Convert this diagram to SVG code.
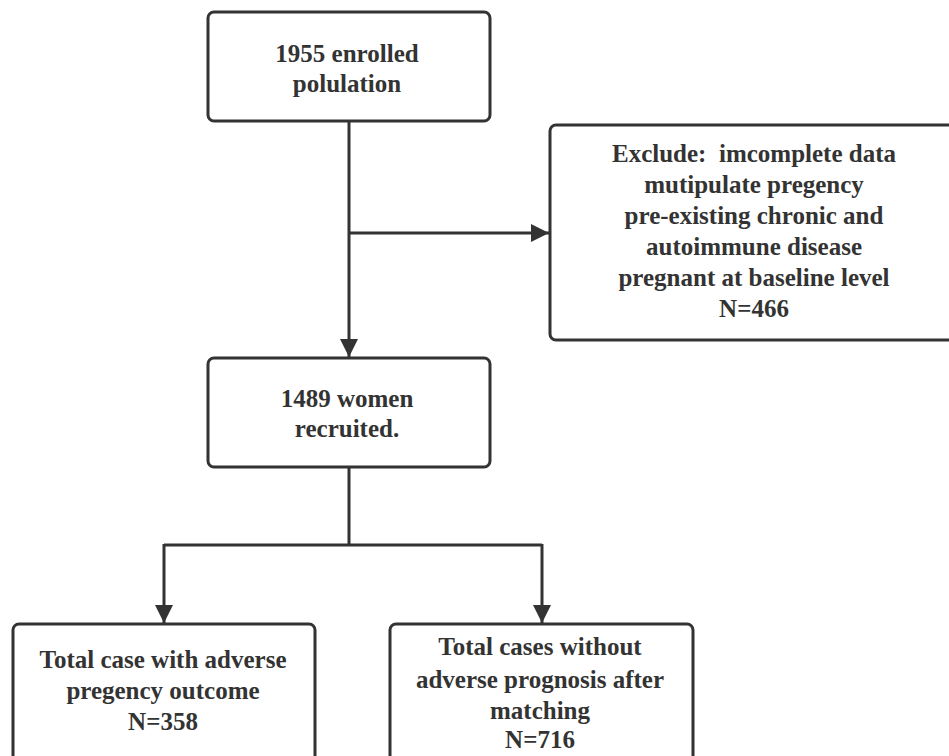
<svg xmlns="http://www.w3.org/2000/svg" width="949" height="756" viewBox="0 0 949 756">
<style>
.box{fill:#fff;stroke:#333;stroke-width:3}
.c{fill:none;stroke:#333;stroke-width:3}
</style>
<defs>
<marker id="ah" markerWidth="18" markerHeight="20" refX="18" refY="9" orient="auto" markerUnits="userSpaceOnUse" viewBox="0 0 18 18">
<path d="M0,0 L18,9 L0,18 Z" fill="#333"/>
</marker>
</defs>
<rect width="949" height="756" fill="#fff"/>
<g id="connectors">
<line class="c" x1="349" y1="121" x2="349" y2="357" marker-end="url(#ah)"/>
<line class="c" x1="349" y1="233" x2="549" y2="233" marker-end="url(#ah)"/>
<polyline class="c" points="349,467 349,545"/>
<polyline class="c" points="164,545 542,545"/>
<line class="c" x1="164" y1="544" x2="164" y2="623" marker-end="url(#ah)"/>
<line class="c" x1="542" y1="544" x2="542" y2="623" marker-end="url(#ah)"/>
</g>
<g id="n1">
<rect class="box" x="208" y="12" width="282" height="109" rx="6"/>
<text x="347" y="62" font-family="'Liberation Serif', serif" font-weight="bold" font-size="25" fill="#333" text-anchor="middle">1955 enrolled</text>
<text x="347" y="92" font-family="'Liberation Serif', serif" font-weight="bold" font-size="25" fill="#333" text-anchor="middle">polulation</text>
</g>
<g id="n2">
<rect class="box" x="550" y="125" width="410" height="215" rx="6"/>
<text x="754" y="162" xml:space="preserve" font-family="'Liberation Serif', serif" font-weight="bold" font-size="25" fill="#333" text-anchor="middle">Exclude:  imcomplete data</text>
<text x="754" y="193" font-family="'Liberation Serif', serif" font-weight="bold" font-size="25" fill="#333" text-anchor="middle">mutipulate pregency</text>
<text x="754" y="224" font-family="'Liberation Serif', serif" font-weight="bold" font-size="25" fill="#333" text-anchor="middle">pre-existing chronic and</text>
<text x="754" y="255" font-family="'Liberation Serif', serif" font-weight="bold" font-size="25" fill="#333" text-anchor="middle">autoimmune disease</text>
<text x="754" y="286" font-family="'Liberation Serif', serif" font-weight="bold" font-size="25" fill="#333" text-anchor="middle">pregnant at baseline level</text>
<text x="754" y="317" font-family="'Liberation Serif', serif" font-weight="bold" font-size="25" fill="#333" text-anchor="middle">N=466</text>
</g>
<g id="n3">
<rect class="box" x="208" y="358" width="282" height="109" rx="6"/>
<text x="347" y="407" font-family="'Liberation Serif', serif" font-weight="bold" font-size="25" fill="#333" text-anchor="middle">1489 women</text>
<text x="347" y="437" font-family="'Liberation Serif', serif" font-weight="bold" font-size="25" fill="#333" text-anchor="middle">recruited.</text>
</g>
<g id="n4">
<rect class="box" x="13" y="624" width="302" height="145" rx="6"/>
<text x="163" y="668" font-family="'Liberation Serif', serif" font-weight="bold" font-size="25" fill="#333" text-anchor="middle">Total case with adverse</text>
<text x="163" y="699" font-family="'Liberation Serif', serif" font-weight="bold" font-size="25" fill="#333" text-anchor="middle">pregency outcome</text>
<text x="163" y="730" font-family="'Liberation Serif', serif" font-weight="bold" font-size="25" fill="#333" text-anchor="middle">N=358</text>
</g>
<g id="n5">
<rect class="box" x="390" y="624" width="303" height="145" rx="6"/>
<text x="540" y="655" font-family="'Liberation Serif', serif" font-weight="bold" font-size="25" fill="#333" text-anchor="middle">Total cases without</text>
<text x="540" y="688" font-family="'Liberation Serif', serif" font-weight="bold" font-size="25" fill="#333" text-anchor="middle">adverse prognosis after</text>
<text x="540" y="719" font-family="'Liberation Serif', serif" font-weight="bold" font-size="25" fill="#333" text-anchor="middle">matching</text>
<text x="540" y="748" font-family="'Liberation Serif', serif" font-weight="bold" font-size="25" fill="#333" text-anchor="middle">N=716</text>
</g>
</svg>
